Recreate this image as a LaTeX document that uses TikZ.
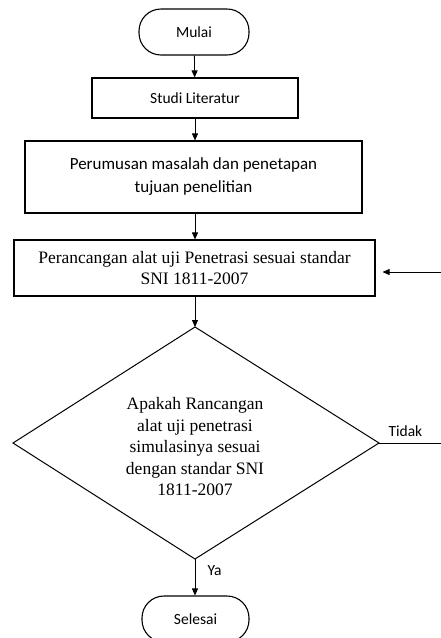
\documentclass[tikz,border=0pt]{standalone}
\usepackage{fontspec}
\setmainfont{Carlito}
\newfontfamily\tms{Liberation Serif}
\usetikzlibrary{shapes.geometric,arrows.meta}
\begin{document}
\begin{tikzpicture}[x=1pt,y=-1pt,
  box/.style={draw,line width=1.1pt,inner sep=0pt,align=center},
  term/.style={draw,line width=1.1pt,rounded corners=22pt,inner sep=0pt},
  conn/.style={line width=0.8pt,-{Triangle[length=7pt,width=6pt]}},
  plain/.style={line width=0.8pt},
  small/.style={font=\fontsize{15.5}{18}\selectfont},
  serif/.style={font=\tms\fontsize{17.5}{21.5}\selectfont}]
\useasboundingbox[fill=white] (0,0) rectangle (440,638);
\node[term,small,minimum width=110pt,minimum height=46pt] (mulai) at (194,32) {Mulai};
\node[box,small,minimum width=206pt,minimum height=40pt] (studi) at (195,98) {Studi Literatur};
\node[box,minimum width=337pt,minimum height=72pt,font=\fontsize{17}{23}\selectfont] (rumus) at (193.5,177) {Perumusan masalah dan penetapan\\tujuan penelitian};
\node[box,serif,minimum width=361pt,minimum height=56pt] (rancang) at (194.5,268) {Perancangan alat uji Penetrasi sesuai standar\\SNI 1811-2007};
\coordinate (dt) at (195,327);
\coordinate (dl) at (13,443);
\coordinate (dr) at (379,443);
\coordinate (db) at (195,559);
\draw[line width=1pt] (dt) -- (dr) -- (db) -- (dl) -- cycle;
\node[serif,align=center] (q) at (195,447) {Apakah Rancangan\\alat uji penetrasi\\simulasinya sesuai\\dengan standar SNI\\1811-2007};
\node[term,small,minimum width=107pt,minimum height=46pt] (selesai) at (195.5,619) {Selesai};
\coordinate (re) at (441,443);
\coordinate (ra) at (441,272);
\draw[conn] (mulai) -- (studi);
\draw[conn] (studi) -- (rumus.north -| studi.south);
\draw[conn] (rumus.south -| studi.south) -- (rancang.north -| studi.south);
\draw[conn] (rancang.south -| dt) -- (dt);
\draw[conn] (db) -- (selesai.north -| db);
\draw[plain] (dr) -- (re);
\draw[conn] (ra) -- ([xshift=7pt]rancang.east |- ra);
\node[small,anchor=west] (ya) at (204,571) {Ya};
\node[small,anchor=west] (tidak) at (385,431) {Tidak};
\end{tikzpicture}
\end{document}
